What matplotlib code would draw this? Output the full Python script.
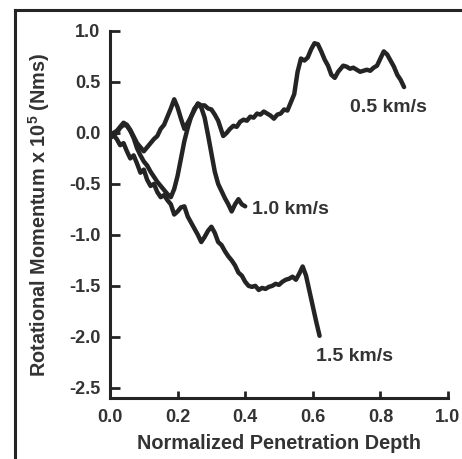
import matplotlib
matplotlib.use("Agg")
import matplotlib.pyplot as plt
from matplotlib.lines import Line2D

plt.rcParams['font.family'] = ['Liberation Sans', 'DejaVu Sans']
plt.rcParams['font.weight'] = 'bold'
plt.rcParams['axes.labelweight'] = 'bold'
plt.rcParams['mathtext.fontset'] = 'custom'
plt.rcParams['mathtext.rm'] = 'Liberation Sans:bold'
plt.rcParams['mathtext.bf'] = 'Liberation Sans:bold'

# traced curves: normalized depth vs rotational momentum (x 1e5 Nms)
x_05 = [0.0, 0.02, 0.04, 0.05, 0.06, 0.08, 0.10, 0.11, 0.12, 0.13, 0.14, 0.15, 0.16, 0.17,
        0.18, 0.19, 0.20, 0.21, 0.22, 0.23, 0.24, 0.26, 0.27, 0.28, 0.29, 0.30, 0.31,
        0.32, 0.335, 0.345, 0.355, 0.365, 0.375, 0.385, 0.395, 0.405, 0.415, 0.425,
        0.435, 0.445, 0.455, 0.465, 0.475, 0.485, 0.495, 0.505, 0.515, 0.525, 0.535,
        0.545, 0.555, 0.565, 0.575, 0.585, 0.595, 0.605, 0.615, 0.625, 0.635, 0.645,
        0.655, 0.665, 0.675, 0.69, 0.70, 0.71, 0.72, 0.73, 0.74, 0.75, 0.76, 0.77,
        0.78, 0.79, 0.80, 0.81, 0.82, 0.83, 0.84, 0.85, 0.86, 0.87]
y_05 = [-0.02, 0.02, 0.10, 0.08, 0.03, -0.10, -0.18, -0.14, -0.10, -0.06, -0.03, 0.04, 0.08, 0.16,
        0.24, 0.33, 0.25, 0.14, 0.04, 0.10, 0.16, 0.29, 0.27, 0.27, 0.24, 0.23, 0.18,
        0.12, -0.03, 0.0, 0.04, 0.07, 0.06, 0.11, 0.13, 0.12, 0.16, 0.15,
        0.19, 0.18, 0.21, 0.19, 0.17, 0.14, 0.18, 0.19, 0.23, 0.22, 0.30,
        0.38, 0.60, 0.73, 0.71, 0.74, 0.82, 0.88, 0.87, 0.80, 0.72, 0.66,
        0.57, 0.54, 0.60, 0.66, 0.65, 0.63, 0.64, 0.62, 0.60, 0.61, 0.62, 0.61,
        0.64, 0.66, 0.73, 0.80, 0.77, 0.71, 0.65, 0.57, 0.52, 0.45]

x_10 = [0.0, 0.02, 0.03, 0.04, 0.05, 0.06, 0.07, 0.08, 0.09, 0.10, 0.11, 0.12, 0.13, 0.14,
        0.15, 0.16, 0.17, 0.18, 0.19, 0.20, 0.21, 0.22, 0.23, 0.24, 0.25, 0.26, 0.27,
        0.28, 0.29, 0.30, 0.31, 0.32, 0.33, 0.34, 0.35, 0.36, 0.37, 0.38, 0.39, 0.40]
y_10 = [-0.05, 0.0, 0.05, 0.08, 0.07, 0.02, -0.05, -0.15, -0.22, -0.28, -0.32, -0.38, -0.43, -0.48,
        -0.52, -0.56, -0.60, -0.63, -0.55, -0.42, -0.25, -0.08, 0.05, 0.16, 0.24, 0.28, 0.25,
        0.15, -0.02, -0.20, -0.38, -0.50, -0.57, -0.64, -0.70, -0.77, -0.70, -0.65, -0.70, -0.72]

x_15 = [0.0, 0.01, 0.02, 0.03, 0.04, 0.05, 0.06, 0.07, 0.08, 0.09, 0.10, 0.11, 0.12, 0.13,
        0.14, 0.15, 0.16, 0.17, 0.18, 0.19, 0.20, 0.21, 0.22, 0.23, 0.24, 0.25, 0.26,
        0.27, 0.28, 0.29, 0.30, 0.31, 0.32, 0.33, 0.34, 0.35, 0.36, 0.37, 0.38, 0.39,
        0.40, 0.41, 0.42, 0.43, 0.44, 0.45, 0.46, 0.47, 0.48, 0.49, 0.50, 0.51, 0.52,
        0.53, 0.54, 0.55, 0.56, 0.57, 0.58, 0.59, 0.60, 0.61, 0.62]
y_15 = [-0.05, -0.02, -0.06, -0.12, -0.10, -0.18, -0.25, -0.22, -0.30, -0.39, -0.36, -0.46, -0.52, -0.50,
        -0.58, -0.63, -0.61, -0.66, -0.70, -0.80, -0.77, -0.73, -0.72, -0.82, -0.88, -0.94, -1.00,
        -1.07, -1.02, -0.96, -0.92, -0.98, -1.07, -1.10, -1.16, -1.21, -1.25, -1.30, -1.37, -1.40,
        -1.46, -1.50, -1.51, -1.50, -1.54, -1.52, -1.53, -1.51, -1.50, -1.48, -1.49, -1.46, -1.44,
        -1.43, -1.41, -1.44, -1.38, -1.31, -1.40, -1.55, -1.70, -1.85, -1.99]

labels = ['0.5 km/s', '1.0 km/s', '1.5 km/s']
label_pos = [(0.71, 0.25), (0.42, -0.75), (0.61, -2.19)]

x_ticks = [0.0, 0.2, 0.4, 0.6, 0.8, 1.0]
y_ticks = [1.0, 0.5, 0.0, -0.5, -1.0, -1.5, -2.0, -2.5]

ink = '#242424'
txt = '#333333'

fig = plt.figure(figsize=(4.62, 4.59), dpi=100)
ax = fig.add_axes([110 / 462, 1 - 398 / 459, 338 / 462, 367 / 459])

for xs, ys in [(x_05, y_05), (x_10, y_10), (x_15, y_15)]:
    ax.plot(xs, ys, color=ink, lw=3.2, solid_joinstyle='round', solid_capstyle='round')

for lab, (lx, ly) in zip(labels, label_pos):
    ax.text(lx, ly, lab, fontsize=14, color=txt, va='center', ha='left', fontweight='bold')

ax.set_xlim(0, 1.0)
ax.set_ylim(-2.6, 1.0)
ax.set_xticks(x_ticks)
ax.set_yticks(y_ticks)
ax.set_xticklabels(['%.1f' % v for v in x_ticks], fontweight='bold')
ax.set_yticklabels(['%.1f' % v for v in y_ticks], fontweight='bold')
ax.tick_params(direction='in', width=2, color=ink, labelcolor=txt, labelsize=13)
ax.tick_params(axis='y', length=7, pad=7)
ax.tick_params(axis='x', length=5, pad=8)
for s in ['top', 'right']:
    ax.spines[s].set_visible(False)
for s in ['left', 'bottom']:
    ax.spines[s].set_linewidth(2.2)
    ax.spines[s].set_color(ink)

ax.set_xlabel('Normalized Penetration Depth', fontsize=14.3, color=txt, labelpad=6, fontweight='bold')
ax.set_ylabel(r'Rotational Momentum x 10$^{5}$ (Nms)', fontsize=14.3, color=txt, labelpad=12,
              fontweight='bold')

# frame of the scanned figure
fig.add_artist(Line2D([15 / 462, 15 / 462], [0, 1 - 10 / 459], transform=fig.transFigure, color=ink, lw=2.2))
fig.add_artist(Line2D([15 / 462, 1], [1 - 10 / 459, 1 - 10 / 459], transform=fig.transFigure, color=ink, lw=2.2))

fig.savefig('out.png', dpi=100)
